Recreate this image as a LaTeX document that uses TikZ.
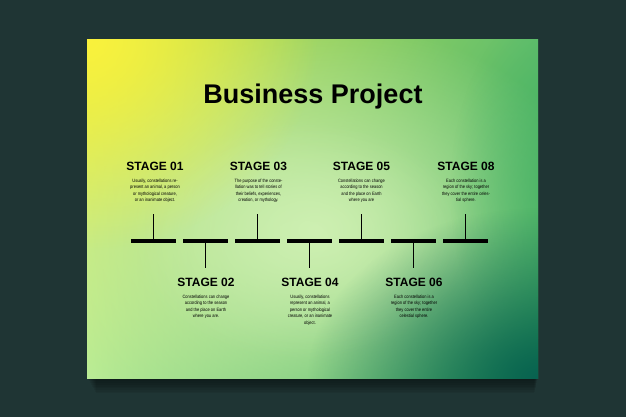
\documentclass[tikz,border=0pt]{standalone}
\usepackage{fontspec}
\setmainfont{Liberation Sans}
\newfontfamily\descfont{Liberation Sans}[FakeStretch=0.85]
\usetikzlibrary{positioning,fadings,shadings}
\definecolor{bgdark}{RGB}{31,53,52}
\definecolor{cardYel}{RGB}{250,242,60}
\definecolor{cardUL}{RGB}{214,232,80}
\definecolor{cardUR}{RGB}{96,190,108}
\definecolor{cardLL}{RGB}{186,236,150}
\definecolor{cardLR}{RGB}{40,160,84}
\definecolor{cardEdge}{RGB}{70,178,100}
\definecolor{cardDeep}{RGB}{8,98,80}
\definecolor{cardGlow}{RGB}{206,240,178}
\tikzfading[name=glowfade, inner color=transparent!0, outer color=transparent!100]
\tikzset{
  titletext/.style={font=\fontsize{27}{27}\selectfont\bfseries, inner sep=0pt, anchor=base},
  stagehead/.style={font=\fontsize{12}{12}\selectfont\bfseries, inner sep=0pt},
  stagetext/.style={font=\descfont\fontsize{4.7}{6.5}\selectfont, align=center, inner sep=0pt},
  tbar/.style     ={rectangle, fill=black, minimum width=45pt, minimum height=4.5pt, inner sep=0pt},
  tlstem/.style   ={black, line width=0.9pt},
}
\begin{document}
\begin{tikzpicture}[x=1pt, y=-1pt]
\useasboundingbox[fill=bgdark] (0,0) rectangle (626,417);
% card with its shadow
\foreach \k in {1,...,9}
  \fill[black, opacity=0.06] (87+\k, 40+1.2*\k) rectangle (538-0.4*\k, 378+1.7*\k);
\begin{scope}
  \clip (87,40) rectangle (538,378);
  \shade[upper left=cardUL, upper right=cardUR, lower left=cardLL, lower right=cardLR] (87,40) rectangle (538,378);
  \fill[cardGlow, path fading=glowfade] (315,230) ellipse (290 and 210);
  \fill[cardGlow, path fading=glowfade, opacity=0.6] (300,240) ellipse (170 and 120);
  \fill[cardYel, path fading=glowfade] (87,40) ellipse (230 and 210);
  \fill[cardEdge, path fading=glowfade, opacity=0.8] (560,190) ellipse (110 and 190);
  \fill[cardDeep, path fading=glowfade] (538,378) ellipse (230 and 170);
\end{scope}

\node[titletext] (title) at (313,103) {Business Project};

% timeline
\foreach \i/\x in {1/153.5, 2/205.5, 3/257.5, 4/309.5, 5/361, 6/413.5, 7/465}
  \node[tbar] (b\i) at (\x,241) {};
\coordinate (t1) at (153.5,214); \coordinate (t3) at (257.5,214);
\coordinate (t5) at (361,214);   \coordinate (t7) at (465,214);
\coordinate (t2) at (205.5,268); \coordinate (t4) at (309.5,268); \coordinate (t6) at (413.5,268);
\draw[tlstem] (b1.north) -- (t1); \draw[tlstem] (b3.north) -- (t3);
\draw[tlstem] (b5.north) -- (t5); \draw[tlstem] (b7.north) -- (t7);
\draw[tlstem] (b2.south) -- (t2); \draw[tlstem] (b4.south) -- (t4); \draw[tlstem] (b6.south) -- (t6);

% stages above
\node[stagehead] (s1) at (155,166) {STAGE 01};
\node[stagetext, below=8pt of s1] (d1) {Usually, constellations re-\\present an animal, a person\\or mythological creature,\\or an inanimate object.};
\node[stagehead] (s3) at (258.5,166) {STAGE 03};
\node[stagetext, below=8pt of s3] (d3) {The purpose of the conste-\\llation was to tell stories of\\their beliefs, experiences,\\creation, or mythology.};
\node[stagehead] (s5) at (361.5,166) {STAGE 05};
\node[stagetext, below=8pt of s5] (d5) {Constellations can change\\according to the season\\and the place on Earth\\where you are};
\node[stagehead] (s8) at (466,166) {STAGE 08};
\node[stagetext, below=8pt of s8] (d8) {Each constellation is a\\region of the sky; together\\they cover the entire celes-\\tial sphere.};

% stages below
\node[stagehead] (s2) at (206,282) {STAGE 02};
\node[stagetext, below=8pt of s2] (d2) {Constellations can change\\according to the season\\and the place on Earth\\where you are.};
\node[stagehead] (s4) at (310,282) {STAGE 04};
\node[stagetext, below=8pt of s4] (d4) {Usually, constellations\\represent an animal, a\\person or mythological\\creature, or an inanimate\\object.};
\node[stagehead] (s6) at (414,282) {STAGE 06};
\node[stagetext, below=8pt of s6] (d6) {Each constellation is a\\region of the sky; together\\they cover the entire\\celestial sphere.};
\end{tikzpicture}
\end{document}
